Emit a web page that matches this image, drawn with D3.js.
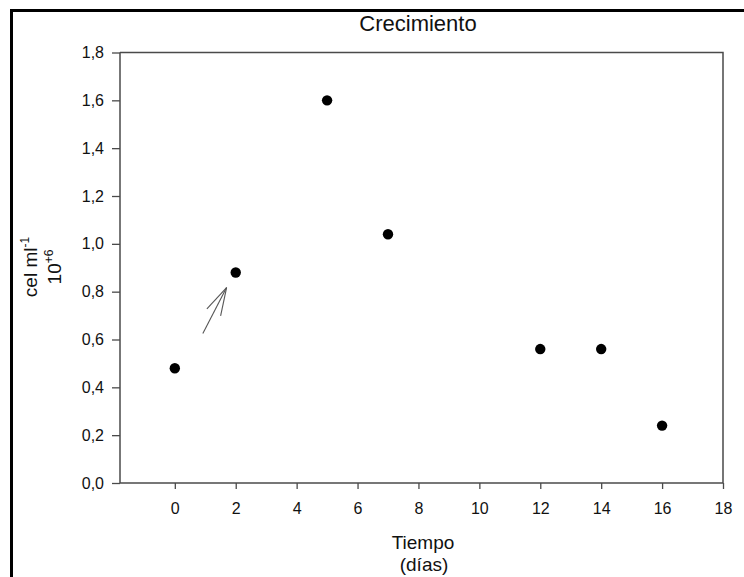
<!DOCTYPE html>
<html>
<head>
<meta charset="utf-8">
<script src="https://cdn.jsdelivr.net/npm/d3@7"></script>
<style>
  html, body { margin: 0; padding: 0; background: #fff; }
  svg { display: block; font-family: "Liberation Sans", Arial, sans-serif; }
</style>
</head>
<body>
<svg id="chart" width="744" height="577"></svg>
<script>
// Growth data: days vs. cell density (cel/ml × 10^6)
const days = [0, 2, 5, 7, 12, 14, 16];
const density = [0.48, 0.88, 1.60, 1.04, 0.56, 0.56, 0.24];

const xTicks = [0, 2, 4, 6, 8, 10, 12, 14, 16, 18];
const yTicks = [0, 0.2, 0.4, 0.6, 0.8, 1.0, 1.2, 1.4, 1.6, 1.8];

// Arrow pointing at the day-2 sample: [tail, tip] in data units
const arrowTail = [0.92, 0.625];
const arrowTip = [1.70, 0.817];

const svg = d3.select("#chart");
const axisColor = "#4a4a4a";

const plotLeft = 120, plotRight = 723, plotTop = 52.5, plotBottom = 483;

const x = d3.scaleLinear().domain([-1.8, 18]).range([plotLeft, plotRight]);
const y = d3.scaleLinear().domain([0, 1.8]).range([plotBottom, plotTop]);

const fmt = v => d3.format(".1f")(v).replace(".", ",");

// Outer frame
svg.append("rect")
  .attr("x", 11.5).attr("y", 10.5)
  .attr("width", 800).attr("height", 700)
  .attr("fill", "none").attr("stroke", "#000").attr("stroke-width", 3);

// Title
svg.append("text")
  .attr("x", 418).attr("y", 31)
  .attr("text-anchor", "middle")
  .attr("font-size", 22)
  .attr("fill", "#111")
  .text("Crecimiento");

// Plot box (top and right edges)
svg.append("path")
  .attr("d", `M${plotLeft},${plotTop}H${plotRight}V${plotBottom}`)
  .attr("fill", "none").attr("stroke", axisColor).attr("stroke-width", 1.5);

// X axis
const gx = svg.append("g")
  .attr("transform", `translate(0,${plotBottom})`)
  .call(d3.axisBottom(x).tickValues(xTicks).tickSize(6).tickPadding(14).tickFormat(d3.format("d")));

// Y axis
const gy = svg.append("g")
  .attr("transform", `translate(${plotLeft},0)`)
  .call(d3.axisLeft(y).tickValues(yTicks).tickSize(8).tickPadding(8).tickFormat(fmt));

[gx, gy].forEach(g => {
  g.select(".domain").attr("stroke", axisColor).attr("stroke-width", 1.5);
  g.selectAll(".tick line").attr("stroke", axisColor).attr("stroke-width", 1.3);
  g.selectAll(".tick text")
    .attr("font-size", 16)
    .attr("font-family", "\"Liberation Sans\", Arial, sans-serif")
    .attr("fill", "#111");
});
// Domain paths without outer ticks
gx.select(".domain").attr("d", `M${plotLeft},0H${plotRight}`);
gy.select(".domain").attr("d", `M0,${plotTop}V${plotBottom}`);

// X axis label
const xl = svg.append("text")
  .attr("text-anchor", "middle")
  .attr("font-size", 19)
  .attr("fill", "#111");
xl.append("tspan").attr("x", 423).attr("y", 549).text("Tiempo");
xl.append("tspan").attr("x", 424).attr("y", 571).text("(días)");

// Y axis label (two rotated lines with superscripts)
const yl = svg.append("g").attr("transform", "translate(0,267) rotate(-90)")
  .attr("fill", "#111");
const l1 = yl.append("text").attr("x", 0).attr("y", 37)
  .attr("text-anchor", "middle").attr("font-size", 19);
l1.append("tspan").text("cel ml");
l1.append("tspan").attr("dy", -8).attr("font-size", 12).text("-1");
const l2 = yl.append("text").attr("x", 0).attr("y", 61)
  .attr("text-anchor", "middle").attr("font-size", 19);
l2.append("tspan").text("10");
l2.append("tspan").attr("dy", -8).attr("font-size", 12).text("+6");

// Arrow annotation
const ax0 = x(arrowTail[0]), ay0 = y(arrowTail[1]);
const ax1 = x(arrowTip[0]), ay1 = y(arrowTip[1]);
const ang = Math.atan2(ay0 - ay1, ax0 - ax1);
const headLen = 29, spread = 0.27;
const arrow = svg.append("g").attr("stroke", "#555").attr("stroke-width", 1.1).attr("fill", "none");
arrow.append("line").attr("x1", ax0).attr("y1", ay0).attr("x2", ax1).attr("y2", ay1);
[-spread, spread].forEach(s => {
  arrow.append("line")
    .attr("x1", ax1).attr("y1", ay1)
    .attr("x2", ax1 + headLen * Math.cos(ang + s))
    .attr("y2", ay1 + headLen * Math.sin(ang + s));
});

// Data points
svg.append("g").selectAll("circle")
  .data(days.map((d, i) => [d, density[i]]))
  .join("circle")
  .attr("cx", d => x(d[0]))
  .attr("cy", d => y(d[1]))
  .attr("r", 5.2)
  .attr("fill", "#000");
</script>
</body>
</html>
